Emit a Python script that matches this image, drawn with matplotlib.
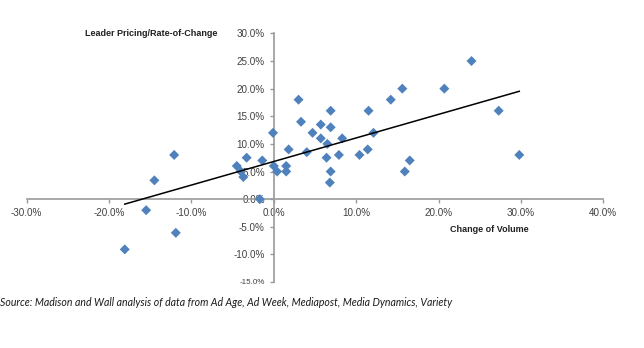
import numpy as np
import matplotlib
matplotlib.use("Agg")
import matplotlib.pyplot as plt
from matplotlib.ticker import FuncFormatter, FixedLocator

# Change of volume (%) vs leader pricing rate-of-change (%)
volume_change = [-18.1, -15.5, -14.5, -12.1, -11.9, -4.5, -4.0, -3.7, -3.3, -1.7,
                 -1.4, -0.1, 0.0, 0.4, 1.5, 1.5, 1.8, 3.0, 3.3, 4.0,
                 4.7, 5.7, 5.7, 6.4, 6.5, 6.9, 6.9, 6.9, 6.8, 7.9,
                 8.3, 10.4, 11.4, 11.5, 12.1, 14.2, 15.6, 15.9, 16.5, 20.7,
                 24.0, 27.3, 29.8]
pricing_change = [-9.1, -2.0, 3.4, 8.0, -6.1, 6.0, 5.0, 4.0, 7.5, 0.0,
                  7.0, 12.0, 6.0, 5.0, 6.0, 5.0, 9.0, 18.0, 14.0, 8.5,
                  12.0, 13.5, 11.0, 7.5, 10.0, 16.0, 13.0, 5.0, 3.0, 8.0,
                  11.0, 8.0, 9.0, 16.0, 12.0, 18.0, 20.0, 5.0, 7.0, 20.0,
                  25.0, 16.0, 8.0]

x_ticks = [-30, -20, -10, 0, 10, 20, 30, 40]
y_ticks = [-15, -10, -5, 0, 5, 10, 15, 20, 25, 30]

x = np.array(volume_change)
y = np.array(pricing_change)

fig = plt.figure(figsize=(6.44, 3.48), dpi=100)
ax = fig.add_axes([0.0415, 0.1897, 0.8953, 0.7143])

ax.scatter(x, y, marker="D", s=26, color="#4F81BD", edgecolors="none", zorder=3)

# linear trend line over the data range
slope, intercept = np.polyfit(x, y, 1)
xs = np.array([x.min(), x.max()])
ax.plot(xs, slope * xs + intercept, color="black", lw=1.1, zorder=4)

ax.set_xlim(x_ticks[0], x_ticks[-1])
ax.set_ylim(y_ticks[0], y_ticks[-1])

# axes crossing at the origin
ax.spines["left"].set_position(("data", 0))
ax.spines["bottom"].set_position(("data", 0))
ax.spines["top"].set_visible(False)
ax.spines["right"].set_visible(False)
for side in ("left", "bottom"):
    ax.spines[side].set_color("#9a9a9a")
    ax.spines[side].set_linewidth(1.2)

ax.xaxis.set_major_locator(FixedLocator(x_ticks))
ax.yaxis.set_major_locator(FixedLocator(y_ticks))
pct = FuncFormatter(lambda v, _: f"{v:.1f}%")
ax.xaxis.set_major_formatter(pct)
ax.yaxis.set_major_formatter(pct)
ax.tick_params(axis="both", direction="out", length=3, width=1, color="#9a9a9a",
               labelsize=7.1, labelcolor="#404040", pad=3.5)
for lbl in ax.get_xticklabels() + ax.get_yticklabels():
    lbl.set_fontfamily("Liberation Sans")
# the lowest y label is set in a smaller size
ax.get_yticklabels()[0].set_fontsize(5.8)

ax.text(-6.8, 30, "Leader Pricing/Rate-of-Change", ha="right", va="center",
        fontsize=6.5, fontweight="bold", family="Liberation Sans", color="#202020")
ax.text(30.9, -5.5, "Change of Volume", ha="right", va="center",
        fontsize=6.5, fontweight="bold", family="Liberation Sans", color="#202020")

fig.text(0.0, 1 - 303 / 348, "Source: Madison and Wall analysis of data from Ad Age, "
         "Ad Week, Mediapost, Media Dynamics, Variety",
         ha="left", va="center", fontsize=7.6, style="italic", family="Lato",
         color="#1a1a1a")

fig.savefig("out.png", dpi=100)
